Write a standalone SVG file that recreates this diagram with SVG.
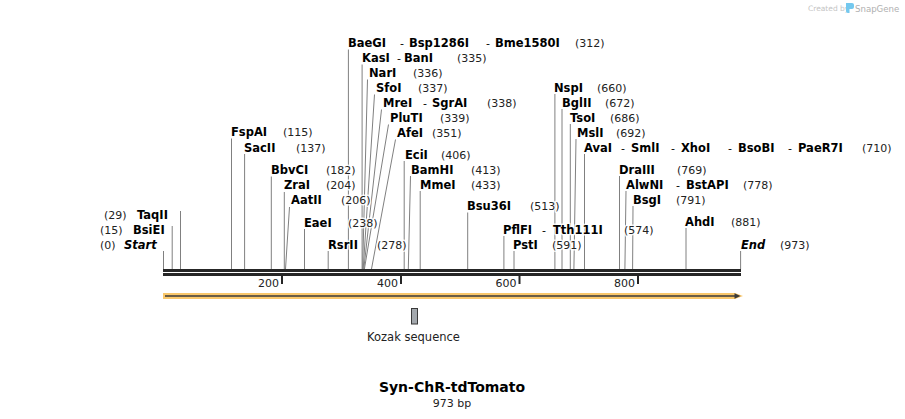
<svg xmlns="http://www.w3.org/2000/svg" width="905" height="419" viewBox="0 0 905 419">
<style>
text{font-family:"DejaVu Sans","Liberation Sans",sans-serif;fill:#000}
.n{font-size:11.5px;font-weight:bold}
.i{font-size:11.5px;font-weight:bold;font-style:italic}
.p{font-size:11px;fill:#222}
.d{font-size:11px}
.h{paint-order:stroke;stroke:#fff;stroke-width:3px;stroke-linejoin:round;stroke-opacity:.85}
.l{stroke:#808080;stroke-width:1;fill:none}
.tk{font-size:11px;fill:#222}
</style>
<rect width="905" height="419" fill="#fff"/>
<g id="watermark">
<text x="808" y="11" style="font-size:7.5px;fill:#c4c4c4">Created by</text>
<path d="M846,3 h6 a2,2 0 0 1 2,2 v2 a2,2 0 0 1 -2,2 h-2.5 v4 h-1.5 a2,2 0 0 1 -2,-2 z" fill="#74c8ee"/>
<text x="855" y="12" style="font-size:8.6px;fill:#b0b0b0">SnapGene</text>
</g>
<g id="connectors">
<line class="l" x1="348.4" y1="49.5" x2="348.4" y2="269"/>
<line class="l" x1="362.1" y1="64.5" x2="362.1" y2="269"/>
<line class="l" x1="367.5" y1="79.5" x2="362.6" y2="269"/>
<line class="l" x1="374.5" y1="94.5" x2="363.2" y2="269"/>
<line class="l" x1="381.5" y1="109.5" x2="363.8" y2="269"/>
<line class="l" x1="388.5" y1="124.5" x2="364.4" y2="269"/>
<line class="l" x1="395.5" y1="139.5" x2="371.5" y2="269"/>
<line class="l" x1="231.5" y1="138.5" x2="231.5" y2="269"/>
<line class="l" x1="244.6" y1="154" x2="244.6" y2="269"/>
<line class="l" x1="271.3" y1="176.5" x2="271.3" y2="269"/>
<line class="l" x1="284.3" y1="192" x2="284.3" y2="269"/>
<line class="l" x1="289.5" y1="207" x2="285.5" y2="269"/>
<line class="l" x1="304.5" y1="229" x2="304.5" y2="269"/>
<line class="l" x1="328.2" y1="251" x2="328.2" y2="269"/>
<line class="l" x1="180.5" y1="211" x2="180.5" y2="269"/>
<line class="l" x1="172.2" y1="226" x2="172.2" y2="269"/>
<line class="l" x1="163.5" y1="251" x2="163.5" y2="269"/>
<line class="l" x1="404.2" y1="161" x2="404.2" y2="269"/>
<line class="l" x1="410.5" y1="176" x2="408.3" y2="269"/>
<line class="l" x1="420.2" y1="191" x2="420.2" y2="269"/>
<line class="l" x1="467.7" y1="212.5" x2="467.7" y2="269"/>
<line class="l" x1="503.9" y1="236" x2="503.9" y2="269"/>
<line class="l" x1="514" y1="251" x2="514" y2="269"/>
<line class="l" x1="554.9" y1="94" x2="554.9" y2="269"/>
<line class="l" x1="562" y1="109" x2="562" y2="269"/>
<line class="l" x1="570.3" y1="124" x2="570.3" y2="269"/>
<line class="l" x1="576" y1="139" x2="573.9" y2="269"/>
<line class="l" x1="584.5" y1="154" x2="584.5" y2="269"/>
<line class="l" x1="619.5" y1="176" x2="619.5" y2="269"/>
<line class="l" x1="626" y1="191" x2="624.9" y2="269"/>
<line class="l" x1="633" y1="206" x2="632.6" y2="269"/>
<line class="l" x1="686" y1="228" x2="686" y2="269"/>
<line class="l" x1="740.6" y1="251" x2="740.6" y2="269"/>
</g>
<g id="labels">
<g id="site-312"><text class="n h" x="348" y="46.5">BaeGI</text><text class="d h" x="400" y="46.5">-</text><text class="n h" x="409" y="46.5">Bsp1286I</text><text class="d h" x="486" y="46.5">-</text><text class="n h" x="495" y="46.5">Bme1580I</text><text class="p h" x="575" y="46.5">(312)</text></g>
<g id="site-335"><text class="n h" x="362" y="61.5">KasI</text><text class="d h" x="397" y="61.5">-</text><text class="n h" x="404" y="61.5">BanI</text><text class="p h" x="457" y="61.5">(335)</text></g>
<g id="site-336"><text class="n h" x="369" y="76.5">NarI</text><text class="p h" x="413" y="76.5">(336)</text></g>
<g id="site-337"><text class="n h" x="376" y="91.5">SfoI</text><text class="p h" x="418" y="91.5">(337)</text></g>
<g id="site-338"><text class="n h" x="383" y="106.5">MreI</text><text class="d h" x="423" y="106.5">-</text><text class="n h" x="432" y="106.5">SgrAI</text><text class="p h" x="487" y="106.5">(338)</text></g>
<g id="site-339"><text class="n h" x="390" y="121.5">PluTI</text><text class="p h" x="440" y="121.5">(339)</text></g>
<g id="site-351"><text class="n h" x="397" y="136.5">AfeI</text><text class="p h" x="432" y="136.5">(351)</text></g>
<g id="site-115"><text class="n h" x="231" y="136">FspAI</text><text class="p h" x="283" y="136">(115)</text></g>
<g id="site-137"><text class="n h" x="244" y="151.5">SacII</text><text class="p h" x="296" y="151.5">(137)</text></g>
<g id="site-182"><text class="n h" x="271" y="174">BbvCI</text><text class="p h" x="326" y="174">(182)</text></g>
<g id="site-204"><text class="n h" x="284" y="189.3">ZraI</text><text class="p h" x="326" y="189.3">(204)</text></g>
<g id="site-206"><text class="n h" x="291" y="204.3">AatII</text><text class="p h" x="341" y="204.3">(206)</text></g>
<g id="site-238"><text class="n h" x="304" y="226.7">EaeI</text><text class="p h" x="348" y="226.7">(238)</text></g>
<g id="site-278"><text class="n h" x="328" y="248.7">RsrII</text><text class="p h" x="377" y="248.7">(278)</text></g>
<g id="site-29"><text class="p h" x="104" y="219">(29)</text><text class="n h" x="137" y="219">TaqII</text></g>
<g id="site-15"><text class="p h" x="100" y="234">(15)</text><text class="n h" x="133" y="234">BsiEI</text></g>
<g id="site-0"><text class="p h" x="100" y="248.7">(0)</text><text class="i h" x="124" y="248.7">Start</text></g>
<g id="site-406"><text class="n h" x="405" y="158.5">EciI</text><text class="p h" x="441" y="158.5">(406)</text></g>
<g id="site-413"><text class="n h" x="411" y="173.5">BamHI</text><text class="p h" x="471" y="173.5">(413)</text></g>
<g id="site-433"><text class="n h" x="420" y="188.5">MmeI</text><text class="p h" x="471" y="188.5">(433)</text></g>
<g id="site-513"><text class="n h" x="467" y="210">Bsu36I</text><text class="p h" x="530" y="210">(513)</text></g>
<g id="site-574"><text class="n h" x="503" y="233.5">PflFI</text><text class="d h" x="542" y="233.5">-</text><text class="n h" x="553" y="233.5">Tth111I</text><text class="p h" x="624" y="233.5">(574)</text></g>
<g id="site-591"><text class="n h" x="513" y="248.5">PstI</text><text class="p h" x="552" y="248.5">(591)</text></g>
<g id="site-660"><text class="n h" x="554" y="91.5">NspI</text><text class="p h" x="597" y="91.5">(660)</text></g>
<g id="site-672"><text class="n h" x="562" y="106.5">BglII</text><text class="p h" x="605" y="106.5">(672)</text></g>
<g id="site-686"><text class="n h" x="570" y="121.5">TsoI</text><text class="p h" x="610" y="121.5">(686)</text></g>
<g id="site-692"><text class="n h" x="577" y="136.5">MslI</text><text class="p h" x="616" y="136.5">(692)</text></g>
<g id="site-710"><text class="n h" x="584" y="151.5">AvaI</text><text class="d h" x="621" y="151.5">-</text><text class="n h" x="631" y="151.5">SmlI</text><text class="d h" x="671" y="151.5">-</text><text class="n h" x="681" y="151.5">XhoI</text><text class="d h" x="728" y="151.5">-</text><text class="n h" x="738" y="151.5">BsoBI</text><text class="d h" x="788" y="151.5">-</text><text class="n h" x="798" y="151.5">PaeR7I</text><text class="p h" x="862" y="151.5">(710)</text></g>
<g id="site-769"><text class="n h" x="619" y="173.5">DraIII</text><text class="p h" x="677" y="173.5">(769)</text></g>
<g id="site-778"><text class="n h" x="626" y="188.5">AlwNI</text><text class="d h" x="676" y="188.5">-</text><text class="n h" x="686" y="188.5">BstAPI</text><text class="p h" x="743" y="188.5">(778)</text></g>
<g id="site-791"><text class="n h" x="633" y="203.5">BsgI</text><text class="p h" x="676" y="203.5">(791)</text></g>
<g id="site-881"><text class="n h" x="685" y="225.7">AhdI</text><text class="p h" x="731" y="225.7">(881)</text></g>
<g id="site-973"><text class="i h" x="741" y="248.5">End</text><text class="p h" x="780" y="248.5">(973)</text></g>
</g>
<g id="sequence">
<rect x="163" y="269" width="578" height="3" fill="#262626"/>
<rect x="163" y="273" width="578" height="3" fill="#262626"/>
<rect x="281" y="276" width="2" height="8" fill="#262626"/>
<rect x="400" y="276" width="2" height="8" fill="#262626"/>
<rect x="518.5" y="276" width="2" height="8" fill="#262626"/>
<rect x="637" y="276" width="2" height="8" fill="#262626"/>
<text class="tk" x="279" y="287" text-anchor="end">200</text>
<text class="tk" x="398" y="287" text-anchor="end">400</text>
<text class="tk" x="516.5" y="287" text-anchor="end">600</text>
<text class="tk" x="635" y="287" text-anchor="end">800</text>
</g>
<g id="feature-arrow">
<path d="M163,293 H735 L743,296 L735,299 H163 Z" fill="#f9c76b"/>
<line x1="165" y1="296" x2="736" y2="296" stroke="#3a3a3a" stroke-width="1.6"/>
<path d="M734.5,293.2 L740.5,296 L734.5,298.8 Z" fill="#3a3a3a"/>
</g>
<g id="kozak">
<rect x="411.5" y="308.5" width="6" height="15.5" fill="#a3a8ad" stroke="#3a3a3a" stroke-width="1"/>
<text x="413.5" y="341" text-anchor="middle" style="font-size:11.5px;fill:#222">Kozak sequence</text>
</g>
<g id="title">
<text x="452" y="392" text-anchor="middle" style="font-size:14px;font-weight:bold">Syn-ChR-tdTomato</text>
<text x="452" y="407" text-anchor="middle" style="font-size:11px;fill:#222">973 bp</text>
</g>
</svg>
